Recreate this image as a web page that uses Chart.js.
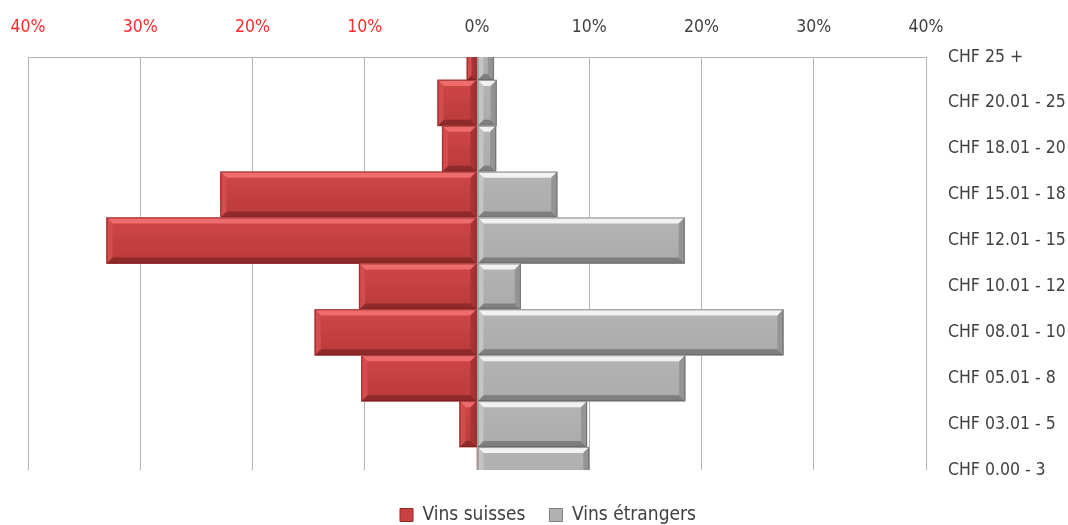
<!DOCTYPE html>
<html><head><meta charset="utf-8">
<script src="https://cdn.jsdelivr.net/npm/chart.js@4.4.1/dist/chart.umd.min.js"></script>
<style>html,body{margin:0;padding:0;background:#fff}canvas{display:block}</style>
</head><body>
<canvas id="c" width="1068" height="525"></canvas>
<script>
const categories = ['CHF 25 +','CHF 20.01 - 25','CHF 18.01 - 20','CHF 15.01 - 18','CHF 12.01 - 15','CHF 10.01 - 12','CHF 08.01 - 10','CHF 05.01 - 8','CHF 03.01 - 5','CHF 0.00 - 3'];
const vinsSuisses = [0.9, 3.5, 3.1, 22.85, 33.0, 10.5, 14.45, 10.3, 1.55, 0];
const vinsEtrangers = [1.5, 1.75, 1.7, 7.15, 18.5, 3.9, 27.3, 18.55, 9.8, 10.0];
const xTickValues = [-40, -30, -20, -10, 0, 10, 20, 30, 40];
const seriesNames = ['Vins suisses', 'Vins étrangers'];

const FONT = "'DejaVu Sans Condensed','Liberation Sans Narrow','Roboto',sans-serif";

const palettes = {
  red:  {base:'#C94141', top:'#CF4747', bottom:'#BA3A3A', light:'#EE6C6C', dark:'#8E2A2A', left:'#D44C4C', right:'#A53434', line:'rgba(110,25,25,0.55)'},
  grey: {base:'#B1B1B1', top:'#B4B4B4', bottom:'#ABABAB', light:'#F2F2F2', dark:'#7E7E7E', left:'#C4C4C4', right:'#949494', line:'rgba(90,90,90,0.6)'}
};

const bevelPlugin = {
  id: 'bevel',
  afterDatasetsDraw(chart) {
    const ctx = chart.ctx, a = chart.chartArea;
    ctx.save();
    ctx.beginPath();
    ctx.rect(a.left, a.top, a.right - a.left, a.bottom - a.top);
    ctx.clip();
    chart.data.datasets.forEach((ds, di) => {
      const meta = chart.getDatasetMeta(di);
      const pal = palettes[ds.paletteName];
      meta.data.forEach(el => {
        const p = el.getProps(['x','y','base','height'], true);
        const l = Math.min(p.x, p.base), r = Math.max(p.x, p.base);
        const t = p.y - p.height / 2, b = p.y + p.height / 2;
        const w = r - l, h = b - t;
        if (w < 0.5) return;
        const bw = Math.min(6, w / 2, h / 2);
        const poly = (pts, col) => {
          ctx.beginPath();
          ctx.moveTo(pts[0][0], pts[0][1]);
          for (let i = 1; i < pts.length; i++) ctx.lineTo(pts[i][0], pts[i][1]);
          ctx.closePath();
          ctx.fillStyle = col;
          ctx.fill();
        };
        const g = ctx.createLinearGradient(0, t, 0, b);
        g.addColorStop(0, pal.top);
        g.addColorStop(1, pal.bottom);
        ctx.fillStyle = g;
        ctx.fillRect(l, t, w, h);
        poly([[l,t],[r,t],[r-bw,t+bw],[l+bw,t+bw]], pal.light);
        poly([[l,b],[r,b],[r-bw,b-bw],[l+bw,b-bw]], pal.dark);
        poly([[l,t],[l+bw,t+bw],[l+bw,b-bw],[l,b]], pal.left);
        poly([[r,t],[r-bw,t+bw],[r-bw,b-bw],[r,b]], pal.right);
        ctx.strokeStyle = pal.line;
        ctx.lineWidth = 1;
        ctx.strokeRect(l + 0.5, t + 0.5, w - 1, h - 1);
      });
    });
    ctx.restore();
  }
};

const LEGEND_PAD = 24, LEGEND_FONT = 19;
const legendShift = {
  id: 'legendShift',
  afterLayout(chart) {
    const lg = chart.legend;
    if (!lg) return;
    const dy = (515 - LEGEND_PAD - LEGEND_FONT / 2) - lg.top;
    lg.top += dy; lg.bottom += dy;
  }
};

new Chart(document.getElementById('c'), {
  type: 'bar',
  data: {
    labels: categories,
    datasets: [
      {label: seriesNames[0], data: vinsSuisses.map(v => -v), backgroundColor: palettes.red.base, borderWidth: 0, paletteName: 'red', categoryPercentage: 1, barPercentage: 1},
      {label: seriesNames[1], data: vinsEtrangers, backgroundColor: palettes.grey.base, borderWidth: 0, paletteName: 'grey', categoryPercentage: 1, barPercentage: 1}
    ]
  },
  options: {
    indexAxis: 'y',
    responsive: false,
    animation: false,
    devicePixelRatio: 1,
    layout: {padding: {left: 28, right: 0, top: 0, bottom: 2}},
    scales: {
      x: {
        position: 'top',
        stacked: true,
        min: -40, max: 40,
        afterBuildTicks(scale) { scale.ticks = xTickValues.map(v => ({value: v})); },
        afterFit(scale) { scale.height = 57; scale.paddingLeft = 0; scale.paddingRight = 0; },
        grid: {
          color: ctx => (ctx.tick && ctx.tick.value === 0) ? 'rgba(0,0,0,0)' : '#B4B4B4',
          lineWidth: 1,
          drawTicks: false
        },
        border: {display: true, color: '#B4B4B4', width: 1},
        ticks: {
          padding: 19,
          font: {family: FONT, size: 17.5},
          color: ctx => ctx.tick.value < 0 ? '#FF2A2A' : '#404040',
          callback: v => Math.abs(v) + '%',
          maxRotation: 0, autoSkip: false
        }
      },
      y: {
        position: 'right',
        stacked: true,
        offset: false,
        afterFit(scale) { scale.width = 142; scale.paddingTop = 0; scale.paddingBottom = 0; },
        grid: {display: false, drawTicks: false},
        border: {display: false},
        ticks: {
          padding: 22,
          font: {family: FONT, size: 17.5},
          color: '#404040',
          autoSkip: false
        }
      }
    },
    plugins: {
      legend: {
        position: 'bottom',
        maxHeight: 53,
        labels: {
          font: {family: FONT, size: LEGEND_FONT},
          color: '#404040',
          boxWidth: 13,
          boxHeight: 13,
          padding: LEGEND_PAD,
          generateLabels(chart) {
            return chart.data.datasets.map((ds, i) => ({
              text: ds.label,
              fillStyle: palettes[ds.paletteName].base,
              strokeStyle: palettes[ds.paletteName].dark,
              lineWidth: 1,
              fontColor: '#404040',
              datasetIndex: i,
              hidden: false
            }));
          }
        }
      },
      tooltip: {enabled: false}
    }
  },
  plugins: [bevelPlugin, legendShift]
});
</script>
</body></html>
